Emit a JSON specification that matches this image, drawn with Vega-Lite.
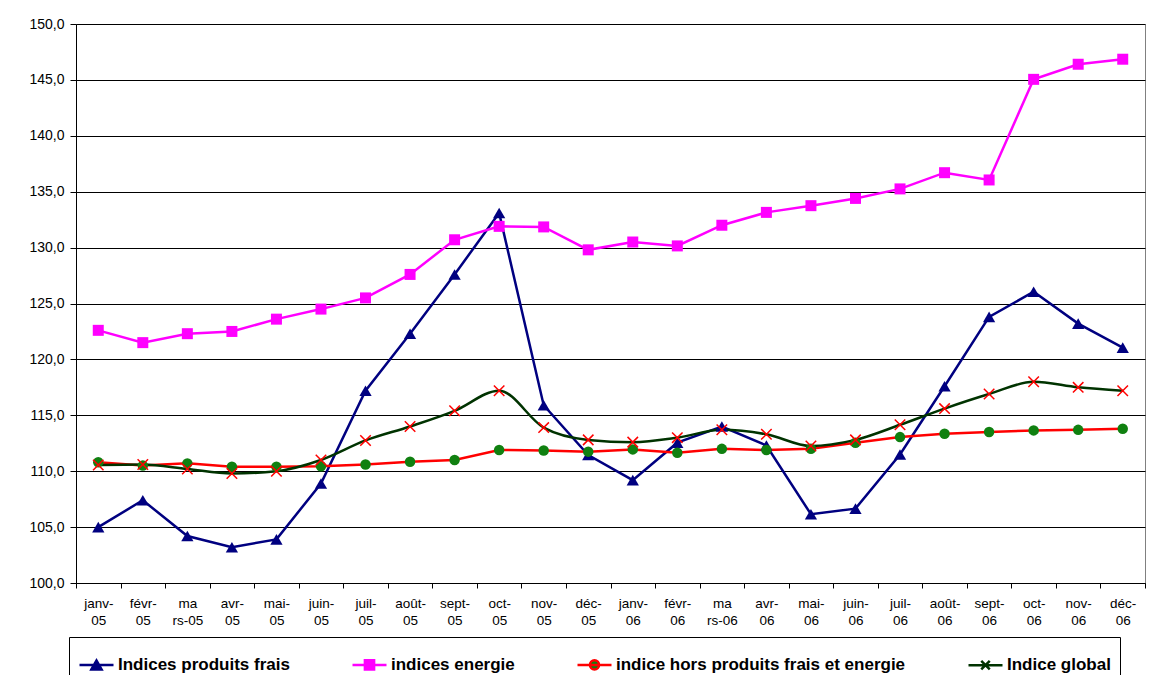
{
  "$schema": "https://vega.github.io/schema/vega-lite/v6.json",
  "width": 1069,
  "height": 559,
  "autosize": {"type": "none"},
  "padding": {"left": 76, "top": 24, "right": 13, "bottom": 92},
  "background": "white",
  "config": {"view": {"stroke": "#808080", "strokeWidth": 1}, "font": "Liberation Sans"},
  "data": {"values": [
    {"mois": "janv-05", "Indices produits frais": 105.0, "indices energie": 122.6, "indice hors produits frais et energie": 110.8, "Indice global": 110.55},
    {"mois": "févr-05", "Indices produits frais": 107.4, "indices energie": 121.5, "indice hors produits frais et energie": 110.5, "Indice global": 110.6},
    {"mois": "mars-05", "Indices produits frais": 104.2, "indices energie": 122.3, "indice hors produits frais et energie": 110.7, "Indice global": 110.2},
    {"mois": "avr-05", "Indices produits frais": 103.2, "indices energie": 122.5, "indice hors produits frais et energie": 110.4, "Indice global": 109.8},
    {"mois": "mai-05", "Indices produits frais": 103.9, "indices energie": 123.6, "indice hors produits frais et energie": 110.4, "Indice global": 110.0},
    {"mois": "juin-05", "Indices produits frais": 108.9, "indices energie": 124.5, "indice hors produits frais et energie": 110.45, "Indice global": 111.0},
    {"mois": "juil-05", "Indices produits frais": 117.2, "indices energie": 125.5, "indice hors produits frais et energie": 110.6, "Indice global": 112.75},
    {"mois": "août-05", "Indices produits frais": 122.3, "indices energie": 127.6, "indice hors produits frais et energie": 110.85, "Indice global": 114.0},
    {"mois": "sept-05", "Indices produits frais": 127.6, "indices energie": 130.7, "indice hors produits frais et energie": 111.0, "Indice global": 115.4},
    {"mois": "oct-05", "Indices produits frais": 133.1, "indices energie": 131.9, "indice hors produits frais et energie": 111.9, "Indice global": 117.2},
    {"mois": "nov-05", "Indices produits frais": 115.9, "indices energie": 131.85, "indice hors produits frais et energie": 111.85, "Indice global": 113.9},
    {"mois": "déc-05", "Indices produits frais": 111.45, "indices energie": 129.8, "indice hors produits frais et energie": 111.75, "Indice global": 112.8},
    {"mois": "janv-06", "Indices produits frais": 109.2, "indices energie": 130.5, "indice hors produits frais et energie": 111.95, "Indice global": 112.6},
    {"mois": "févr-06", "Indices produits frais": 112.55, "indices energie": 130.15, "indice hors produits frais et energie": 111.65, "Indice global": 113.0},
    {"mois": "mars-06", "Indices produits frais": 114.0, "indices energie": 132.0, "indice hors produits frais et energie": 112.0, "Indice global": 113.7},
    {"mois": "avr-06", "Indices produits frais": 112.3, "indices energie": 133.15, "indice hors produits frais et energie": 111.9, "Indice global": 113.3},
    {"mois": "mai-06", "Indices produits frais": 106.15, "indices energie": 133.75, "indice hors produits frais et energie": 112.0, "Indice global": 112.25},
    {"mois": "juin-06", "Indices produits frais": 106.65, "indices energie": 134.4, "indice hors produits frais et energie": 112.55, "Indice global": 112.8},
    {"mois": "juil-06", "Indices produits frais": 111.5, "indices energie": 135.25, "indice hors produits frais et energie": 113.05, "Indice global": 114.15},
    {"mois": "août-06", "Indices produits frais": 117.6, "indices energie": 136.7, "indice hors produits frais et energie": 113.35, "Indice global": 115.6},
    {"mois": "sept-06", "Indices produits frais": 123.8, "indices energie": 136.05, "indice hors produits frais et energie": 113.5, "Indice global": 116.9},
    {"mois": "oct-06", "Indices produits frais": 126.05, "indices energie": 145.05, "indice hors produits frais et energie": 113.65, "Indice global": 118.0},
    {"mois": "nov-06", "Indices produits frais": 123.2, "indices energie": 146.4, "indice hors produits frais et energie": 113.7, "Indice global": 117.5},
    {"mois": "déc-06", "Indices produits frais": 121.05, "indices energie": 146.85, "indice hors produits frais et energie": 113.8, "Indice global": 117.2}
  ]},
  "transform": [
    {"fold": ["Indices produits frais", "indices energie", "indice hors produits frais et energie", "Indice global"], "as": ["serie", "valeur"]}
  ],
  "encoding": {
    "x": {
      "field": "mois", "type": "ordinal",
      "scale": {"type": "band", "paddingInner": 0, "paddingOuter": 0,
        "domain": ["janv-05","févr-05","mars-05","avr-05","mai-05","juin-05","juil-05","août-05","sept-05","oct-05","nov-05","déc-05","janv-06","févr-06","mars-06","avr-06","mai-06","juin-06","juil-06","août-06","sept-06","oct-06","nov-06","déc-06"]},
      "axis": {
        "title": null, "labelAngle": 0, "tickBand": "extent", "tickSize": 5, "tickColor": "black",
        "domainColor": "black", "grid": false, "labelFont": "Liberation Sans", "labelFontSize": 13.5,
        "labelColor": "black", "labelPadding": 8, "labelLineHeight": 17, "labelBaseline": "top",
        "labelExpr": "!isString(datum.value) ? '' : indexof(datum.value,'mars')==0 ? ['ma', slice(datum.value,2)] : [slice(datum.value,0,indexof(datum.value,'-')+1), slice(datum.value,indexof(datum.value,'-')+1)]"
      }
    },
    "y": {
      "field": "valeur", "type": "quantitative",
      "scale": {"domain": [100, 150], "nice": false, "zero": false},
      "axis": {
        "title": null, "values": [100,105,110,115,120,125,130,135,140,145,150],
        "labelExpr": "datum.value + ',0'",
        "grid": true, "gridColor": "black", "gridWidth": 1, "domainColor": "black",
        "tickColor": "black", "tickSize": 6, "labelPadding": 6, "labelFontSize": 14,
        "labelColor": "black", "labelFont": "Liberation Sans"
      }
    }
  },
  "layer": [
    {
      "transform": [{"filter": "datum.serie !== 'Indice global'"}],
      "mark": {"type": "line", "strokeWidth": 2.5},
      "encoding": {
        "stroke": {
          "field": "serie", "type": "nominal",
          "scale": {"domain": ["Indices produits frais", "indices energie", "indice hors produits frais et energie", "Indice global"],
                    "range": ["#000080", "#FF00FF", "#FF0000", "#003300"]},
          "legend": {
            "title": null, "orient": "none", "legendX": -7, "legendY": 613, "direction": "horizontal",
            "columns": 4, "columnPadding": 57, "padding": 9, "strokeColor": "black", "fillColor": "white",
            "symbolSize": 1156, "symbolStrokeWidth": 2.5, "labelOffset": 3, "labelFont": "Liberation Sans",
            "labelFontSize": 17, "labelFontWeight": "bold", "labelColor": "black", "labelLimit": 0,
            "encode": {"symbols": {"update": {
              "shape": {"signal": "datum.value==='Indices produits frais' ? 'M-1,0H1M-0.3,0.26L0,-0.27L0.3,0.26Z' : datum.value==='indices energie' ? 'M-1,0H1M-0.27,-0.27H0.27V0.27H-0.27Z' : datum.value==='Indice global' ? 'M-1,0H1M-0.25,-0.25L0.25,0.25M0.25,-0.25L-0.25,0.25' : 'M-1,0H1M-0.27,0A0.27,0.27,0,1,0,0.27,0A0.27,0.27,0,1,0,-0.27,0Z'"},
              "fill": {"signal": "datum.value==='Indices produits frais' ? '#000080' : datum.value==='indices energie' ? '#FF00FF' : datum.value==='Indice global' ? 'transparent' : '#108010'"},
              "strokeWidth": {"value": 2.5}
            }}}
          }
        }
      }
    },
    {
      "transform": [{"filter": "datum.serie === 'Indice global'"}],
      "mark": {"type": "line", "strokeWidth": 2.5, "interpolate": "monotone"},
      "encoding": {
        "stroke": {"field": "serie", "type": "nominal"}
      }
    },
    {
      "transform": [{"filter": "datum.serie !== 'Indice global'"}],
      "mark": {"type": "point", "filled": true, "opacity": 1, "strokeWidth": 0},
      "encoding": {
        "shape": {"field": "serie", "type": "nominal", "legend": null,
          "scale": {"domain": ["Indices produits frais", "indices energie", "indice hors produits frais et energie"], "range": ["triangle-up", "square", "circle"]}},
        "fill": {"field": "serie", "type": "nominal", "legend": null,
          "scale": {"domain": ["Indices produits frais", "indices energie", "indice hors produits frais et energie"], "range": ["#000080", "#FF00FF", "#108010"]}},
        "size": {"field": "serie", "type": "nominal", "legend": null,
          "scale": {"type": "ordinal", "domain": ["Indices produits frais", "indices energie", "indice hors produits frais et energie"], "range": [150, 121, 110]}}
      }
    },
    {
      "transform": [{"filter": "datum.serie === 'Indice global'"}],
      "mark": {"type": "point", "filled": false, "shape": "M-1,-1L1,1M1,-1L-1,1", "size": 110, "stroke": "#FF0000", "strokeWidth": 1.5, "opacity": 1}
    }
  ]
}
